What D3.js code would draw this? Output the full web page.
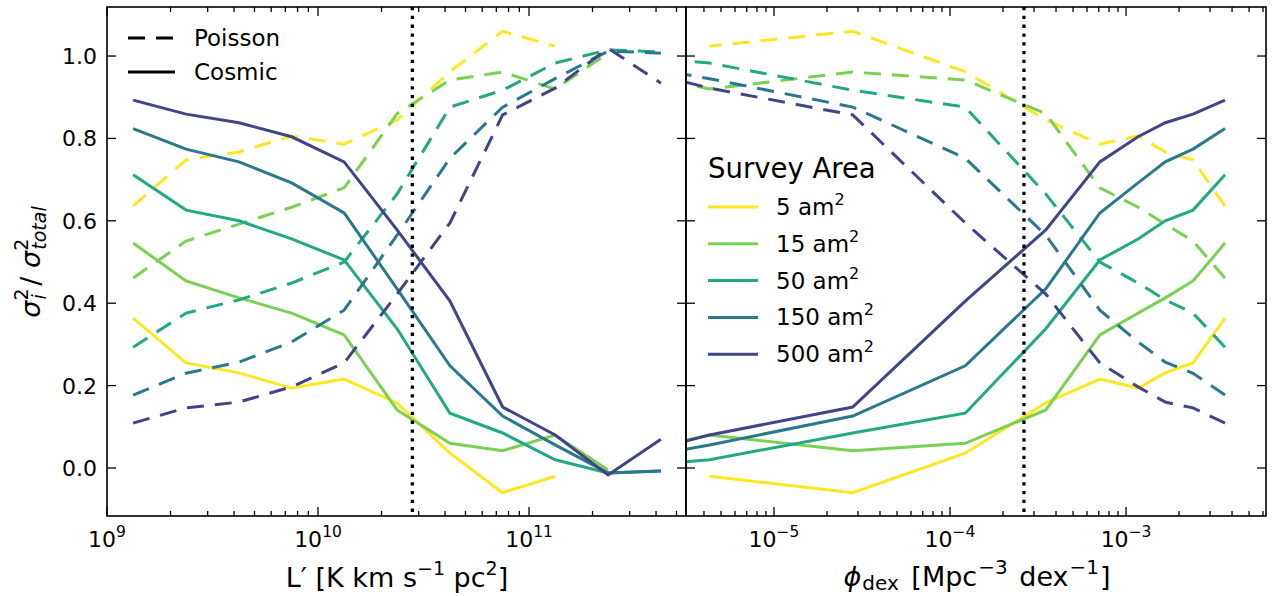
<!DOCTYPE html>
<html><head><meta charset="utf-8">
<script src="https://cdn.jsdelivr.net/npm/d3@7"></script>
<style>
body{margin:0;background:#fff;}
text{font-family:"DejaVu Sans",sans-serif;fill:#000;}
</style></head>
<body><svg id="c" width="1274" height="596"></svg>
<script>
// ---------------- data ----------------
const areas = ["5", "15", "50", "150", "500"];
const colors = ["#fde725", "#7ad151", "#22a884", "#2a788e", "#414487"];
const lumBins = [1.33e9, 2.37e9, 4.22e9, 7.5e9, 1.33e10, 2.37e10, 4.22e10, 7.5e10, 1.33e11, 2.37e11, 4.22e11];
const phiBins = [3.65e-3, 2.40e-3, 1.67e-3, 1.17e-3, 7.1e-4, 3.5e-4, 1.22e-4, 2.8e-5, 4.3e-6, 5.6e-7, 5e-8];
const cosmic5   = [0.364, 0.255, 0.231, 0.194, 0.216, 0.158, 0.036, -0.060, -0.020, null, null];
const cosmic15  = [0.546, 0.454, 0.413, 0.376, 0.323, 0.141, 0.060, 0.042, 0.080, -0.005, null];
const cosmic50  = [0.712, 0.626, 0.600, 0.556, 0.505, 0.338, 0.133, 0.085, 0.020, -0.012, -0.007];
const cosmic150 = [0.824, 0.774, 0.743, 0.692, 0.619, 0.435, 0.248, 0.126, 0.056, -0.012, -0.007];
const cosmic500 = [0.893, 0.859, 0.838, 0.804, 0.743, 0.578, 0.405, 0.148, 0.080, -0.017, 0.070];
const poisson5   = [0.636, 0.748, 0.767, 0.806, 0.786, 0.845, 0.962, 1.060, 1.024, null, null];
const poisson15  = [0.461, 0.551, 0.592, 0.633, 0.680, 0.860, 0.942, 0.961, 0.920, 1.007, null];
const poisson50  = [0.293, 0.376, 0.408, 0.449, 0.500, 0.665, 0.876, 0.917, 0.983, 1.015, 1.010];
const poisson150 = [0.177, 0.230, 0.257, 0.306, 0.383, 0.565, 0.752, 0.876, 0.945, 1.012, 1.007];
const poisson500 = [0.109, 0.146, 0.160, 0.197, 0.255, 0.422, 0.595, 0.857, 0.922, 1.019, 0.934];
const cosmicAll = [cosmic5, cosmic15, cosmic50, cosmic150, cosmic500];
const poissonAll = [poisson5, poisson15, poisson50, poisson150, poisson500];
const lumCut = 2.8e10;
const phiCut = 2.63e-4;
const yTicks = [0.0, 0.2, 0.4, 0.6, 0.8, 1.0];
const lumMajor = [9, 10, 11];
const phiMajor = [-5, -4, -3];

// ---------------- layout ----------------
const svg = d3.select("#c");
const yTop = 7, yBot = 516;
const y = d3.scaleLinear().domain([-0.1165, 1.119]).range([yBot, yTop]);
const panels = [
  {x0:107, x1:686, xs: d3.scaleLog().domain([1e9, Math.pow(10, 11.744)]).range([107, 686]), xv: lumBins, cut: lumCut, major: lumMajor, id:"L"},
  {x0:686, x1:1266, xs: d3.scaleLog().domain([Math.pow(10,-5.5), Math.pow(10,-2.205)]).range([686, 1266]), xv: phiBins, cut: phiCut, major: phiMajor, id:"R"}
];

panels.forEach((p, pi) => {
  svg.append("clipPath").attr("id", "clip" + p.id).append("rect")
    .attr("x", p.x0).attr("y", yTop).attr("width", p.x1 - p.x0).attr("height", yBot - yTop);
  const g = svg.append("g").attr("clip-path", `url(#clip${p.id})`);
  const line = d3.line().defined(d => d[1] !== null).x(d => p.xs(d[0])).y(d => y(d[1]));
  areas.forEach((a, k) => {
    const pd = p.xv.map((xv, i) => [xv, poissonAll[k][i]]);
    const cd = p.xv.map((xv, i) => [xv, cosmicAll[k][i]]);
    g.append("path").attr("d", line(pd)).attr("fill", "none").attr("stroke", colors[k])
      .attr("stroke-width", 3).attr("stroke-dasharray", "17,11");
    g.append("path").attr("d", line(cd)).attr("fill", "none").attr("stroke", colors[k])
      .attr("stroke-width", 3);
  });
  g.append("line").attr("x1", p.xs(p.cut)).attr("x2", p.xs(p.cut)).attr("y1", yTop).attr("y2", yBot)
    .attr("stroke", "#000").attr("stroke-width", 3.3).attr("stroke-dasharray", "3.3,5.5");

  // ticks
  const tk = svg.append("g").attr("stroke", "#000").attr("stroke-width", 1.3);
  const [dlo, dhi] = p.xs.domain().map(Math.log10);
  for (let e = Math.floor(dlo); e <= Math.ceil(dhi); e++) {
    for (let m = 1; m <= 9; m++) {
      const v = m * Math.pow(10, e);
      const X = p.xs(v);
      if (X < p.x0 - 0.5 || X > p.x1 + 0.5) continue;
      const len = m === 1 ? 9 : 5;
      tk.append("line").attr("x1", X).attr("x2", X).attr("y1", yBot).attr("y2", yBot - len);
      tk.append("line").attr("x1", X).attr("x2", X).attr("y1", yTop).attr("y2", yTop + len);
    }
  }
  yTicks.forEach(t => {
    tk.append("line").attr("x1", p.x0).attr("x2", p.x0 + 9).attr("y1", y(t)).attr("y2", y(t));
    tk.append("line").attr("x1", p.x1).attr("x2", p.x1 - 9).attr("y1", y(t)).attr("y2", y(t));
  });

  // x tick labels
  p.major.forEach(e => {
    const X = p.xs(Math.pow(10, e));
    const t = svg.append("text").attr("x", X).attr("y", 547).attr("text-anchor", "middle")
      .style("font-size", "22px");
    t.append("tspan").text("10");
    t.append("tspan").attr("dy", -10).style("font-size", "15.5px").text(e < 0 ? "\u2212" + (-e) : String(e));
  });

  // spines
  svg.append("rect").attr("x", p.x0).attr("y", yTop).attr("width", p.x1 - p.x0).attr("height", yBot - yTop)
    .attr("fill", "none").attr("stroke", "#000").attr("stroke-width", 1.6);
});

// y tick labels (left panel)
yTicks.forEach(t => {
  svg.append("text").attr("x", 97).attr("y", y(t) + 8).attr("text-anchor", "end")
    .style("font-size", "22px").text(t.toFixed(1));
});

// y axis label
const yl = svg.append("text").attr("transform", "translate(40,262) rotate(-90)")
  .attr("text-anchor", "middle").style("font-size", "27px");
yl.append("tspan").style("font-style", "italic").text("\u03c3");
yl.append("tspan").attr("dy", -12).style("font-size", "19px").text("2");
yl.append("tspan").attr("dx", -11).attr("dy", 18).style("font-size", "19px").style("font-style", "italic").text("i");
yl.append("tspan").attr("dy", -6).text(" / ");
yl.append("tspan").style("font-style", "italic").text("\u03c3");
yl.append("tspan").attr("dy", -12).style("font-size", "19px").text("2");
yl.append("tspan").attr("dx", -11).attr("dy", 18).style("font-size", "19px").style("font-style", "italic").text("total");

// x axis labels
const xl1 = svg.append("text").attr("x", 397).attr("y", 587).attr("text-anchor", "middle").style("font-size", "27px");
xl1.append("tspan").text("L\u2032 [K km s");
xl1.append("tspan").attr("dy", -12).style("font-size", "19px").text("\u22121");
xl1.append("tspan").attr("dy", 12).text(" pc");
xl1.append("tspan").attr("dy", -12).style("font-size", "19px").text("2");
xl1.append("tspan").attr("dy", 12).text("]");

const xl2 = svg.append("text").attr("x", 977).attr("y", 586).attr("text-anchor", "middle").style("font-size", "27px");
xl2.append("tspan").style("font-style", "italic").text("\u03d5");
xl2.append("tspan").attr("dx", 1).attr("dy", 4).style("font-size", "20px").text("dex");
xl2.append("tspan").attr("dx", 4).attr("dy", -4).text(" [Mpc");
xl2.append("tspan").attr("dx", 1).attr("dy", -12).style("font-size", "20px").text("\u22123");
xl2.append("tspan").attr("dx", 3).attr("dy", 12).text(" dex");
xl2.append("tspan").attr("dx", 1).attr("dy", -12).style("font-size", "20px").text("\u22121");
xl2.append("tspan").attr("dx", 1).attr("dy", 12).text("]");

// legend: Poisson / Cosmic
const styles = [["Poisson", "17,11", 38], ["Cosmic", null, 72]];
styles.forEach(([lab, dash, yy]) => {
  const l = svg.append("line").attr("x1", 128).attr("x2", 175).attr("y1", yy).attr("y2", yy)
    .attr("stroke", "#000").attr("stroke-width", 3);
  if (dash) l.attr("stroke-dasharray", dash);
  svg.append("text").attr("x", 194).attr("y", yy + 8).style("font-size", "23px").text(lab);
});

// legend: Survey Area
svg.append("text").attr("x", 708).attr("y", 178).style("font-size", "27.5px").text("Survey Area");
areas.forEach((a, k) => {
  const yy = 207 + k * 36.8;
  svg.append("line").attr("x1", 708).attr("x2", 758).attr("y1", yy).attr("y2", yy)
    .attr("stroke", colors[k]).attr("stroke-width", 3);
  const t = svg.append("text").attr("x", 776).attr("y", yy + 8).style("font-size", "23px");
  t.append("tspan").text(a + " am");
  t.append("tspan").attr("dy", -10).style("font-size", "16px").text("2");
});
</script></body></html>
